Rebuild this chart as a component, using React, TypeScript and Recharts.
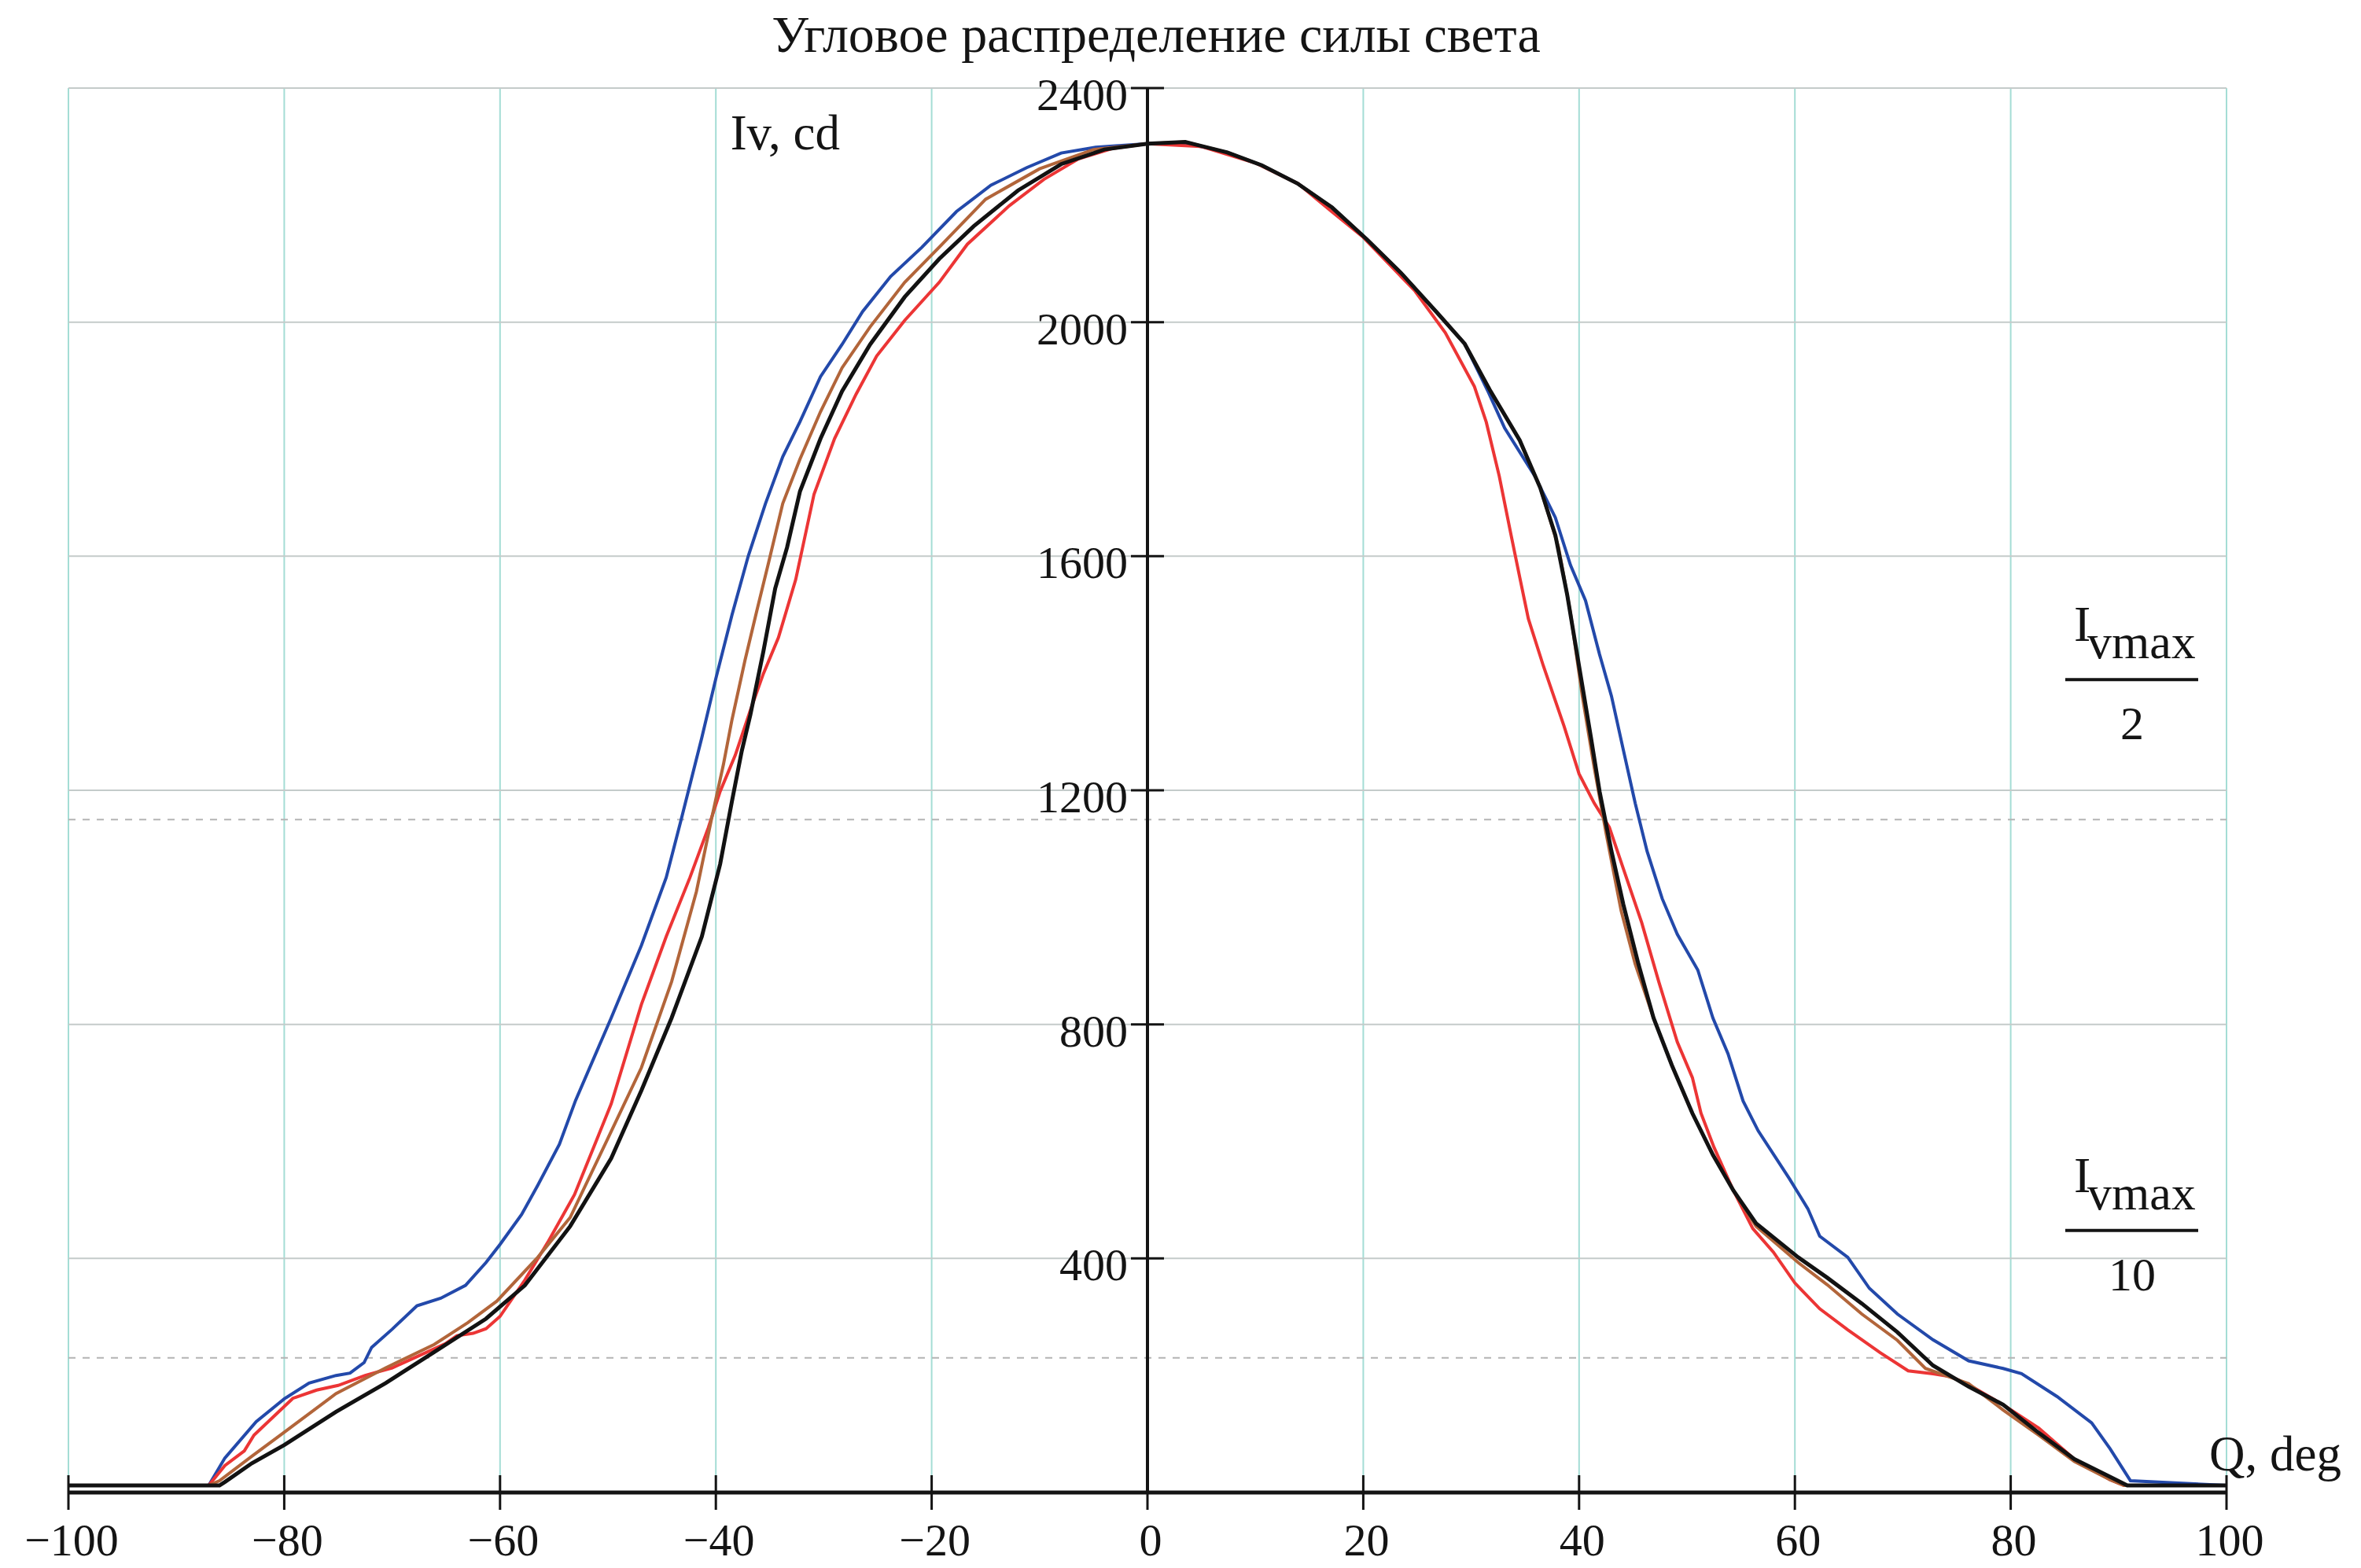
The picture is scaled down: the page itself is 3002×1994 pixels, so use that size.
import React from "react";
import {
  LineChart,
  Line,
  XAxis,
  YAxis,
  CartesianGrid,
  ReferenceLine,
  ReferenceDot,
} from "recharts";

// ---------- data ----------
const TITLE = "Угловое распределение силы света";
const X_TICKS = [-100, -80, -60, -40, -20, 0, 20, 40, 60, 80, 100];
const Y_TICKS = [400, 800, 1200, 1600, 2000, 2400];
const IVMAX = 2300;

const BLUE_ANGLES = [-100, -87, -85.5, -82.6, -80, -77.7, -75.2, -73.9, -72.6, -71.9, -70, -67.7, -65.5, -63.2, -61.3, -60, -58, -56.5, -54.5, -53, -49.7, -46.9, -44.6, -43.2, -41.3, -40, -38.5, -37, -35.4, -33.8, -32.2, -30.3, -28.3, -26.4, -23.8, -20.9, -17.7, -14.5, -11.2, -8, -4.8, 0, 3.5, 7.4, 10.6, 13.9, 17.1, 20.3, 23.5, 26.8, 29.4, 31.6, 33.1, 35.9, 37.8, 39.2, 40.6, 41.9, 43, 44.1, 45.2, 46.3, 47.7, 49.1, 51, 52.4, 53.8, 55.2, 56.6, 59.5, 61.2, 62.3, 64.9, 66.9, 69.5, 72.8, 76.1, 79.3, 81, 84.3, 87.5, 89.2, 91.1, 100];
const BLUE_VALUES = [12, 12, 59, 121, 160, 187, 200, 204, 222, 248, 279, 319, 332, 354, 393, 424, 475, 525, 595, 670, 811, 935, 1051, 1151, 1290, 1391, 1500, 1600, 1690, 1770, 1830, 1907, 1962, 2018, 2078, 2128, 2189, 2234, 2264, 2289, 2299, 2305, 2306, 2290, 2268, 2237, 2196, 2142, 2084, 2017, 1963, 1880, 1819, 1737, 1666, 1585, 1524, 1432, 1361, 1269, 1178, 1096, 1015, 954, 893, 811, 750, 669, 618, 536, 485, 438, 402, 349, 305, 261, 225, 212, 203, 164, 119, 75, 20, 12];

const RED_ANGLES = [-100, -87, -85.5, -83.7, -82.8, -79.2, -77, -75, -72.5, -70, -67, -65, -64, -62.5, -61.3, -60, -57.7, -55.5, -53.1, -49.7, -46.9, -44.6, -42.4, -40.7, -39.6, -38.2, -36.8, -35.6, -34.2, -32.6, -30.9, -29, -27, -25.1, -22.5, -19.3, -16.7, -12.8, -9.6, -6.4, -3.2, 0, 5, 10, 14, 17, 20, 24.8, 27.6, 30.3, 31.4, 32.6, 33.7, 34.5, 35.3, 36.7, 38.6, 40, 41.4, 42.8, 44.1, 45.8, 47.4, 49.1, 50.5, 51.3, 52.5, 54.3, 56.1, 58, 60, 62.3, 64.9, 67.9, 70.5, 72.8, 74.5, 76.5, 79.3, 82.6, 85.9, 89.2, 90.5, 100];
const RED_VALUES = [12, 12, 46, 71, 98, 161, 175, 183, 200, 213, 238, 255, 268, 272, 280, 301, 363, 430, 509, 664, 834, 950, 1051, 1136, 1198, 1260, 1337, 1399, 1461, 1560, 1706, 1801, 1877, 1942, 2003, 2068, 2133, 2199, 2244, 2279, 2297, 2305, 2300, 2272, 2236, 2190, 2145, 2053, 1982, 1890, 1829, 1737, 1636, 1564, 1493, 1412, 1310, 1228, 1178, 1137, 1066, 974, 872, 770, 709, 648, 590, 516, 451, 411, 358, 314, 278, 239, 208, 203, 198, 180, 150, 110, 57, 22, 12, 12];

const BROWN_ANGLES = [-100, -87, -86, -83, -80, -75.2, -70.6, -66.1, -63, -60.3, -56.5, -53.5, -49.7, -46.9, -44.1, -41.8, -40.4, -39.3, -38.5, -37.3, -36.2, -35.1, -33.8, -32.2, -30.3, -28.3, -25.7, -22.5, -19.3, -15, -10, -5, 0, 3.5, 7.4, 10.6, 13.9, 17.1, 20.3, 23.5, 26.8, 29.4, 31.7, 34.5, 36.4, 38.1, 39.2, 40.3, 41.4, 42.5, 43.9, 45.2, 46.9, 48.6, 50.5, 52.4, 54.3, 56.4, 60.3, 63, 66.2, 69.5, 72.1, 76.1, 79.3, 82.6, 85.9, 89.2, 90.5, 100];
const BROWN_VALUES = [12, 12, 20, 62, 103, 169, 213, 253, 290, 327, 402, 470, 617, 726, 873, 1027, 1151, 1244, 1321, 1422, 1507, 1590, 1690, 1766, 1847, 1922, 1992, 2068, 2128, 2210, 2262, 2295, 2305, 2308, 2290, 2268, 2237, 2196, 2142, 2084, 2017, 1963, 1885, 1798, 1717, 1615, 1503, 1361, 1239, 1127, 994, 903, 811, 730, 648, 577, 516, 455, 393, 355, 305, 260, 212, 186, 141, 98, 53, 22, 12, 12];

const BLACK_ANGLES = [-100, -86, -85.5, -83, -80, -75.2, -70.6, -66.1, -61.3, -57.7, -53.5, -49.7, -46.9, -44.1, -41.3, -39.6, -38.5, -37.6, -36.8, -35.6, -34.5, -33.4, -32.2, -30.3, -28.3, -25.7, -22.5, -19.3, -16.1, -12, -8, -4, 0, 3.5, 7.4, 10.6, 13.9, 17.1, 20.3, 23.5, 26.8, 29.4, 31.7, 34.5, 36.4, 37.8, 38.9, 40, 41.1, 41.9, 43, 44.1, 45.5, 46.9, 48.6, 50.5, 52.4, 54.3, 56.4, 60.3, 63, 66.2, 69.5, 72.8, 76.1, 79.3, 82.6, 85.9, 89.2, 90.8, 100];
const BLACK_VALUES = [12, 12, 18, 50, 81, 138, 187, 240, 297, 354, 455, 571, 687, 811, 950, 1074, 1182, 1267, 1329, 1437, 1545, 1615, 1711, 1801, 1882, 1962, 2043, 2108, 2164, 2225, 2270, 2295, 2305, 2308, 2290, 2268, 2237, 2196, 2142, 2084, 2017, 1963, 1885, 1798, 1717, 1636, 1534, 1412, 1290, 1198, 1096, 1005, 903, 811, 730, 648, 577, 516, 460, 402, 367, 323, 274, 217, 181, 150, 102, 57, 27, 12, 12];

const toRows = (angles: number[], values: number[]) =>
  angles.map((a, i) => ({ angle: a, iv: values[i] }));

const SERIES = [
  { name: "blue", data: toRows(BLUE_ANGLES, BLUE_VALUES), color: "#2349aa", width: 4 },
  { name: "red", data: toRows(RED_ANGLES, RED_VALUES), color: "#ec3535", width: 4 },
  { name: "brown", data: toRows(BROWN_ANGLES, BROWN_VALUES), color: "#b2653a", width: 4 },
  { name: "black", data: toRows(BLACK_ANGLES, BLACK_VALUES), color: "#121212", width: 5 },
];

// ---------- layout ----------
const CHART_W = 2994;
const CHART_H = 1986;
const FONT = "'Liberation Serif', 'Times New Roman', serif";
const INK = "#141414";

const fmt = (v: number) => (v < 0 ? "\u2212" + Math.abs(v) : String(v));

const XTick = (props: any) => {
  const { x, y, payload } = props;
  return (
    <g>
      <line x1={x} x2={x} y1={y - 22} y2={y + 22} stroke={INK} strokeWidth={3} />
      <text x={x + 4} y={y + 80} textAnchor="middle" fontFamily={FONT} fontSize={58} fill={INK}>
        {fmt(payload.value)}
      </text>
    </g>
  );
};

const YTick = ({ cx, cy, value }: any) => (
  <g>
    <line x1={cx - 21} x2={cx + 21} y1={cy} y2={cy} stroke={INK} strokeWidth={3} />
    <text x={cx - 25} y={cy + 28} textAnchor="end" fontFamily={FONT} fontSize={58} fill={INK}>
      {value}
    </text>
  </g>
);

const Fraction = ({ cx, cy, barDy, den }: any) => {
  const barY = cy + barDy;
  return (
    <g fontFamily={FONT} fill={INK}>
      <text x={cx - 194} y={barY - 49} fontSize={64}>I</text>
      <text x={cx - 177} y={barY - 27} fontSize={62}>vmax</text>
      <line x1={cx - 205} x2={cx - 36} y1={barY} y2={barY} stroke={INK} strokeWidth={4} />
      <text x={cx - 120} y={barY + 76} fontSize={60} textAnchor="middle">{den}</text>
    </g>
  );
};

export default function App() {
  return (
    <div style={{ position: "relative", width: CHART_W, height: CHART_H, background: "#fff" }}>
      <LineChart
        width={CHART_W}
        height={CHART_H}
        margin={{ top: 104, right: 171, bottom: 0, left: 79 }}
      >
        <CartesianGrid horizontal={false} stroke="#a4ddd5" strokeWidth={2} />
        <XAxis
          type="number"
          dataKey="angle"
          domain={[-100, 100]}
          ticks={X_TICKS}
          allowDataOverflow
          height={96}
          tickSize={0}
          tickMargin={0}
          tickLine={false}
          axisLine={{ stroke: INK, strokeWidth: 5 }}
          tick={<XTick />}
          interval={0}
        />
        <YAxis
          type="number"
          domain={[0, 2400]}
          ticks={Y_TICKS}
          allowDataOverflow
          width={0}
          tick={false}
          tickLine={false}
          axisLine={false}
        />
        {Y_TICKS.map((v) => (
          <ReferenceLine key={"hg" + v} y={v} stroke="#c4cbca" strokeWidth={2} />
        ))}
        <ReferenceLine y={IVMAX / 2} stroke="#b4b4b4" strokeWidth={2} strokeDasharray="9 9" />
        <ReferenceLine y={IVMAX / 10} stroke="#b4b4b4" strokeWidth={2} strokeDasharray="9 9" />
        {SERIES.map((s) => (
          <Line
            key={s.name}
            data={s.data}
            dataKey="iv"
            type="linear"
            stroke={s.color}
            strokeWidth={s.width}
            dot={false}
            activeDot={false}
            isAnimationActive={false}
          />
        ))}
        <ReferenceLine x={0} stroke={INK} strokeWidth={4} />
        {Y_TICKS.map((v) => (
          <ReferenceDot
            key={"yt" + v}
            x={0}
            y={v}
            r={0}
            ifOverflow="visible"
            shape={(p: any) => <YTick cx={p.cx} cy={p.cy} value={v} />}
          />
        ))}
        <ReferenceDot
          x={0}
          y={2400}
          r={0}
          ifOverflow="visible"
          shape={(p: any) => (
            <text x={p.cx - 391} y={p.cy + 78} textAnchor="end" fontFamily={FONT} fontSize={63} fill={INK}>
              Iv, cd
            </text>
          )}
        />
        <ReferenceDot
          x={100}
          y={0}
          r={0}
          ifOverflow="visible"
          shape={(p: any) => (
            <text x={p.cx - 22} y={p.cy - 28} fontFamily={FONT} fontSize={63} fill={INK}>
              Q, deg
            </text>
          )}
        />
        <ReferenceDot
          x={100}
          y={IVMAX / 2}
          r={0}
          ifOverflow="visible"
          shape={(p: any) => <Fraction cx={p.cx} cy={p.cy} barDy={-178} den="2" />}
        />
        <ReferenceDot
          x={100}
          y={IVMAX / 10}
          r={0}
          ifOverflow="visible"
          shape={(p: any) => <Fraction cx={p.cx} cy={p.cy} barDy={-162} den="10" />}
        />
      </LineChart>
      <svg
        width={CHART_W}
        height={120}
        style={{ position: "absolute", left: 0, top: -8, pointerEvents: "none" }}
      >
        <text x={1462} y={66} textAnchor="middle" fontFamily={FONT} fontSize={66} fill={INK}>
          {TITLE}
        </text>
      </svg>
    </div>
  );
}
